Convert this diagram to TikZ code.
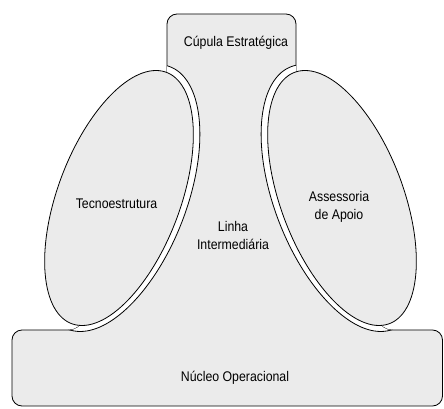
\documentclass[tikz,border=0pt]{standalone}
\usepackage{fontspec}
\setmainfont{Liberation Sans}[FakeStretch=0.88]

\tikzset{
  orgpart/.style={draw, line width=0.8pt, fill=black!8},
  orggap/.style={draw, line width=0.8pt, fill=white},
  partname/.style={font=\fontsize{14}{18}\selectfont, align=center, anchor=base}
}

% outline of apex, middle line and operating core as one shape
\newcommand{\orgoutline}{(12,3) -- (12,79) -- (80,79) -- (119,211) -- (158,327) -- (167,327)
  -- (167,395) -- (296,395) -- (296,327) -- (303,327) -- (342,211) -- (381,79)
  -- (442.5,79) -- (442.5,3) -- cycle}

\begin{document}
\begin{tikzpicture}[x=1pt, y=1pt, rounded corners=10pt]
  \useasboundingbox (0,0) rectangle (444,409);

  % apex, middle line, operating core
  \draw[orgpart] \orgoutline;

  % white gap beside the two side parts
  \begin{scope}
    \clip \orgoutline;
    \draw[orggap, shift={(119,211)}, xslant=0.29] (0,0) ellipse [x radius=71, y radius=133.5];
    \draw[orggap, shift={(342,211)}, xslant=-0.29] (0,0) ellipse [x radius=71, y radius=133.5];
  \end{scope}

  % technostructure and support staff
  \draw[orgpart, shift={(119,211)}, xslant=0.29] (0,0) ellipse [x radius=64.5, y radius=127.5];
  \draw[orgpart, shift={(342,211)}, xslant=-0.29] (0,0) ellipse [x radius=64.5, y radius=127.5];

  % labels (base = last line)
  \node[partname] (cupula) at (236,362) {Cúpula Estratégica};
  \node[partname] (tecno) at (116.5,200) {Tecnoestrutura};
  \node[partname] (linha) at (233,159) {Linha\\Intermediária};
  \node[partname] (apoio) at (339,189) {Assessoria\\de Apoio};
  \node[partname] (nucleo) at (235,27) {Núcleo Operacional};
\end{tikzpicture}
\end{document}
